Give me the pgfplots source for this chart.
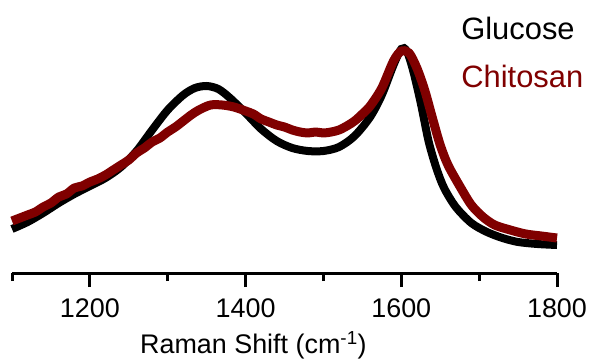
\documentclass[border=0pt]{standalone}
\usepackage{fontspec}
\setmainfont{Liberation Sans}
\usepackage{pgfplots}
\pgfplotsset{compat=1.18}
\definecolor{chitred}{RGB}{128,0,0}
\begin{document}
\begin{tikzpicture}
\begin{axis}[
  name=main,
  scale only axis,
  width=545bp, height=243bp,
  xmin=1100, xmax=1800, ymin=0, ymax=243,
  axis x line=bottom,
  axis y line=none,
  x axis line style={line width=3bp, -},
  xtick={1200,1400,1600,1800},
  minor xtick={1100,1300,1500,1700},
  major tick length=14bp,
  minor tick length=8bp,
  tick align=outside,
  every tick/.style={line width=3bp, black},
  every minor tick/.style={line width=3bp, black},
  xtick style={line width=3bp, black},
  /pgf/number format/assume math mode=true,
  /pgf/number format/set thousands separator={},
  xticklabel style={font=\fontsize{27}{32}\selectfont, anchor=base, yshift=-30bp},
  xlabel={Raman Shift (cm\textsuperscript{-1})},
  xlabel style={font=\fontsize{27}{32}\selectfont, anchor=base, at={(axis description cs:0.443,0)}, yshift=-80bp},
  clip=false,
  legend style={draw=none, fill=none, at={(axis description cs:0.815,1.07)}, anchor=north west,
    font=\fontsize{31}{31}\selectfont, row sep=20bp, cells={anchor=west}},
  legend image code/.code={},
]
\addplot[black, line width=8bp, smooth] coordinates {
(1100,44) (1120,51) (1140,60) (1160,70) (1180,79) (1200,87) (1220,95) (1240,106)
(1260,122) (1280,143) (1300,163) (1320,178) (1335,185) (1350,187) (1365,184)
(1380,175) (1400,160) (1420,144) (1440,132) (1460,125) (1480,122) (1500,122)
(1520,126) (1540,137) (1560,156) (1575,178) (1590,208) (1600,224) (1607,222)
(1615,203) (1625,170) (1635,132) (1645,105) (1655,85) (1670,66) (1690,50)
(1710,41) (1730,35) (1750,31) (1775,29) (1800,28)
};
\addlegendentry[text=black]{Glucose}
\addplot[chitred, line width=9bp, smooth, line join=round] coordinates {
(1100,52) (1110,55) (1120,58) (1130,61) (1140,66) (1150,70) (1160,76) (1170,79) (1180,85)
(1190,87) (1200,91) (1210,94) (1220,98) (1230,103) (1240,108) (1250,113) (1260,120)
(1270,125) (1280,131) (1290,135) (1300,141) (1310,146) (1320,152) (1330,158) (1340,163)
(1355,168) (1370,168) (1385,166) (1400,162) (1410,159) (1420,154) (1430,151) (1440,148)
(1450,146) (1460,143) (1470,141) (1480,140) (1490,141) (1500,140) (1510,141) (1520,143)
(1530,147) (1540,152) (1550,159) (1560,167) (1575,185) (1590,212) (1600,222) (1610,220)
(1620,205) (1630,183) (1640,155) (1650,128) (1660,108) (1675,87) (1690,68) (1705,56)
(1720,48) (1740,43) (1760,39) (1780,37) (1800,35)
};
\addlegendentry[text=chitred]{Chitosan}
\end{axis}
\pgfresetboundingbox
\path[use as bounding box] ([xshift=-12bp,yshift=-88bp]main.south west) rectangle ([xshift=35bp,yshift=30bp]main.north east);
\end{tikzpicture}
\end{document}
